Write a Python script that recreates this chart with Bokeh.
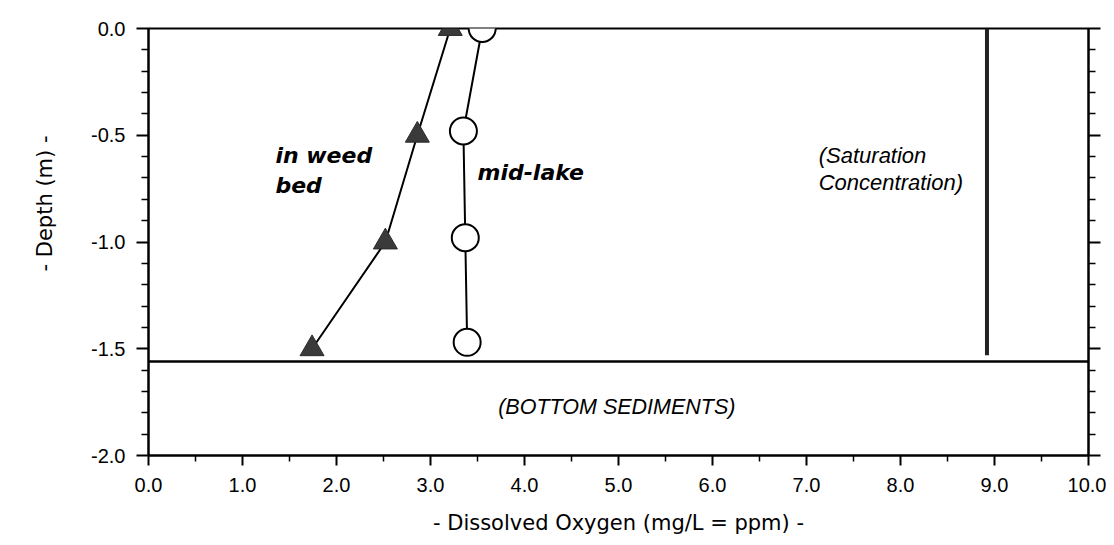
from bokeh.plotting import figure
from bokeh.models import LinearAxis, Range1d, FixedTicker, PrintfTickFormatter, CustomJSTickFormatter, Title
from bokeh.core.properties import value
from bokeh.embed import file_html
from bokeh.resources import INLINE

# ---- data ----
depth_weed = [0.0, -0.5, -1.0, -1.5]
do_weed = [3.21, 2.86, 2.52, 1.74]
depth_mid = [0.0, -0.48, -0.98, -1.47]
do_mid = [3.55, 3.35, 3.37, 3.39]
saturation_do = 8.92
saturation_depth = [0.0, -1.53]
sediment_depth = -1.56
x_ticks = [0.0, 1.0, 2.0, 3.0, 4.0, 5.0, 6.0, 7.0, 8.0, 9.0, 10.0]
y_ticks = [0.0, -0.5, -1.0, -1.5, -2.0]
x_label = "- Dissolved Oxygen (mg/L = ppm) -"
y_label = "- Depth (m) -"

x_minor = [a + 0.5 for a in x_ticks[:-1]]
y_minor = [round(-0.1 * i, 2) for i in range(21) if i % 5]

p = figure(width=1106, height=537, x_range=Range1d(0, 10), y_range=Range1d(-2, 0),
           output_backend="svg", toolbar_location=None,
           min_border_left=148, min_border_right=18, min_border_top=28, min_border_bottom=82)
p.grid.visible = False
p.outline_line_color = "black"
p.outline_line_width = 2
p.background_fill_color = "white"
p.border_fill_color = "white"

tick_font = "Liberation Sans"
for ax in [p.xaxis[0], p.yaxis[0]]:
    ax.axis_line_width = 2
    ax.axis_line_color = "black"
    ax.major_tick_line_width = 2
    ax.minor_tick_line_width = 1.5
    ax.major_tick_in = 0
    ax.minor_tick_in = 0
    ax.major_label_text_font = tick_font
    ax.major_label_text_font_size = "20px"
    ax.major_label_text_color = "black"
    ax.axis_label_text_font = "DejaVu Sans"
    ax.axis_label_text_font_style = "normal"
    ax.axis_label_text_font_size = "21px"
    ax.axis_label_text_color = "black"
    ax.formatter = PrintfTickFormatter(format="%.1f")

p.xaxis.ticker = FixedTicker(ticks=x_ticks, minor_ticks=x_minor)
p.xaxis.major_tick_out = 10
p.xaxis.minor_tick_out = 6
p.xaxis.major_label_standoff = 12
p.xaxis.axis_label = x_label
p.xaxis.axis_label_standoff = 16

p.yaxis.ticker = FixedTicker(ticks=y_ticks, minor_ticks=y_minor)
p.yaxis.major_tick_out = 12
p.yaxis.minor_tick_out = 7
p.yaxis.major_label_standoff = 11

# vertical axis title, placed a little above the axis centre as in the reference
p.add_layout(Title(text=y_label, align="right", offset=107, vertical_align="middle",
                   text_font="DejaVu Sans", text_font_size="21px", text_font_style="normal",
                   text_color="black", standoff=62), "left")

right = LinearAxis(ticker=FixedTicker(ticks=y_ticks, minor_ticks=y_minor),
                   formatter=CustomJSTickFormatter(code="return ''"),
                   axis_line_width=2, major_tick_line_width=2, minor_tick_line_width=1.5,
                   major_tick_in=0, minor_tick_in=0, major_tick_out=12, minor_tick_out=7,
                   major_label_standoff=0)
p.add_layout(right, "right")

# sediment boundary and saturation line
p.line(x=[0, 10], y=[sediment_depth, sediment_depth], line_color="black", line_width=2.5)
p.line(x=[saturation_do, saturation_do], y=saturation_depth, line_color="#222222", line_width=4)

# profiles
p.line(x=do_weed, y=depth_weed, line_color="black", line_width=2)
p.line(x=do_mid, y=depth_mid, line_color="black", line_width=2)
p.scatter(x=do_weed, y=depth_weed, marker="triangle", size=24,
          fill_color="#3a3a3a", line_color="#2a2a2a", line_width=1)
p.scatter(x=do_mid, y=depth_mid, marker="circle", size=27,
          fill_color="white", line_color="black", line_width=2)

# annotations
p.text(x=[1.35, 1.35], y=[-0.595, -0.735], text=["in weed", "bed"],
       text_font=value("DejaVu Sans"), text_font_style="bold italic", text_font_size="22px",
       text_align="left", text_baseline="middle", text_color="black")
p.text(x=[3.5], y=[-0.674], text=["mid-lake"],
       text_font=value("DejaVu Sans"), text_font_style="bold italic", text_font_size="22px",
       text_align="left", text_baseline="middle", text_color="black")
p.text(x=[7.13, 7.13], y=[-0.595, -0.72], text=["(Saturation", "Concentration)"],
       text_font=value("Liberation Sans"), text_font_style="italic", text_font_size="22px",
       text_align="left", text_baseline="middle", text_color="black")
p.text(x=[3.72], y=[-1.775], text=["(BOTTOM SEDIMENTS)"],
       text_font=value("Liberation Sans"), text_font_style="italic", text_font_size="21.5px",
       text_align="left", text_baseline="middle", text_color="black")

open("out.html", "w").write(file_html(p, INLINE))
